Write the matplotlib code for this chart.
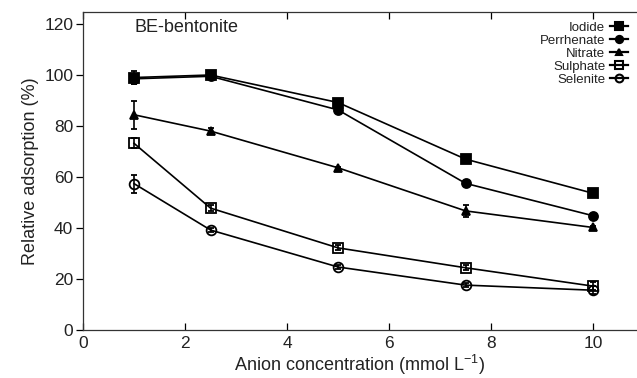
import matplotlib
matplotlib.use("Agg")
import matplotlib.pyplot as plt
from matplotlib.lines import Line2D

plt.rcParams["font.family"] = ["Liberation Sans", "DejaVu Sans"]
plt.rcParams["mathtext.fontset"] = "custom"
plt.rcParams["mathtext.rm"] = "Liberation Sans"

# anion concentration (mmol/L)
conc = [1.0, 2.5, 5.0, 7.5, 10.0]

iodide = [99.0, 100.0, 89.2, 67.0, 53.6]
iodide_err = [2.5, 1.0, 1.0, 1.0, 1.0]
perrhenate = [98.5, 99.5, 86.3, 57.5, 44.8]
perrhenate_err = [2.0, 1.0, 1.0, 1.0, 0.5]
nitrate = [84.4, 78.0, 63.6, 46.7, 40.2]
nitrate_err = [5.5, 1.2, 0.5, 2.5, 0.5]
sulphate = [73.2, 47.8, 32.2, 24.4, 17.2]
sulphate_err = [2.0, 1.2, 1.0, 1.0, 1.5]
selenite = [57.4, 39.2, 24.7, 17.6, 15.6]
selenite_err = [3.5, 0.8, 0.8, 0.8, 1.5]

series = [
    ("Iodide", iodide, iodide_err, "s", "full", 7.5),
    ("Perrhenate", perrhenate, perrhenate_err, "o", "full", 6.5),
    ("Nitrate", nitrate, nitrate_err, "^", "full", 6.0),
    ("Sulphate", sulphate, sulphate_err, "s", "none", 7.0),
    ("Selenite", selenite, selenite_err, "o", "none", 7.0),
]

txt = "#222222"

fig = plt.figure(figsize=(6.37, 3.78), dpi=100)
ax = fig.add_axes([83 / 637, 48 / 378, (637 - 83) / 637, (330 - 12) / 378])

handles = []
for label, vals, errs, mk, fill, ms in series:
    ax.errorbar(conc, vals, yerr=errs, color="black", lw=1.2, marker=mk,
                fillstyle=fill, markersize=ms, markeredgewidth=1.3,
                capsize=2.5, elinewidth=1.2, capthick=1.2)
    handles.append(Line2D([], [], color="black", lw=1.6, marker=mk,
                          fillstyle=fill, markersize=ms * 0.8,
                          markeredgewidth=1.5, label=label))

ax.set_xlim(0, 10.86)
ax.set_ylim(0, 124.7)
ax.set_xticks([0, 2, 4, 6, 8, 10])
ax.set_yticks([0, 20, 40, 60, 80, 100, 120])
ax.spines["right"].set_visible(False)
for s in ["left", "top", "bottom"]:
    ax.spines[s].set_linewidth(0.9)
    ax.spines[s].set_color("#333333")
ax.tick_params(axis="x", direction="in", top=True, length=5, width=0.9,
               labelsize=12.5, labelcolor=txt, pad=4)
ax.tick_params(axis="y", direction="out", length=5, width=0.9,
               labelsize=12.5, labelcolor=txt, pad=2)

ax.set_xlabel("Anion concentration (mmol L$^{-1}$)", fontsize=13, color=txt,
              labelpad=2)
ax.set_ylabel("Relative adsorption (%)", fontsize=13, color=txt, labelpad=4)

ax.text(1.0, 118.5, "BE-bentonite", fontsize=13, color=txt, va="center")

leg = ax.legend(handles=handles, loc="upper right",
                bbox_to_anchor=(0.995, 0.99), frameon=False,
                markerfirst=False, fontsize=9.5, labelspacing=0.05,
                handlelength=1.3, handletextpad=0.4, borderaxespad=0.3,
                borderpad=0.2)
for t in leg.get_texts():
    t.set_color(txt)
    t.set_ha("right")
leg._legend_box.align = "right"

fig.savefig("out.png", dpi=100)
